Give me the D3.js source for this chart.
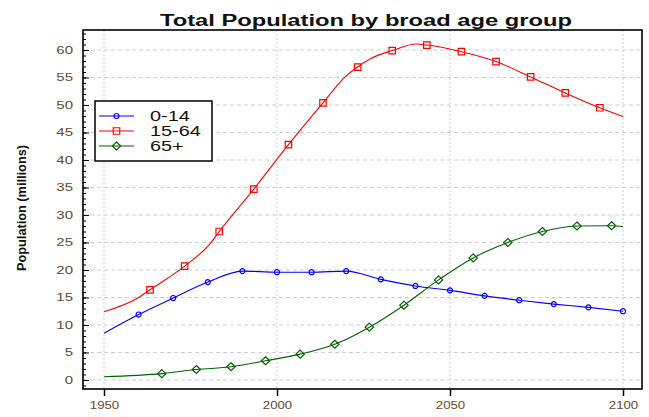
<!DOCTYPE html>
<html>
<head>
<meta charset="utf-8">
<script src="https://cdn.jsdelivr.net/npm/d3@7"></script>
<style>
body { margin: 0; background: #fff; }
text { font-family: "Liberation Sans", Arial, sans-serif; }
</style>
</head>
<body>
<svg id="chart" width="649" height="417"></svg>
<script>
// data (millions)
var yrs014 = [1950, 1960, 1970, 1980, 1990, 2000, 2010, 2020, 2030, 2040, 2050, 2060, 2070, 2080, 2090, 2100];
var pop014 = [8.5, 11.9, 14.9, 17.8, 19.8, 19.6, 19.6, 19.8, 18.3, 17.1, 16.3, 15.3, 14.5, 13.8, 13.2, 12.5];
var mk014  = [0, 1, 1, 1, 1, 1, 1, 1, 1, 1, 1, 1, 1, 1, 1, 1];

var yrs1564 = [1950, 1960, 1963.3, 1973.3, 1980.8, 1983.3, 1993.3, 2003.3, 2013.3, 2019.7, 2023.3, 2027, 2033.3, 2040.3, 2043.3, 2053.3, 2063.3, 2073.3, 2083.3, 2093.3, 2100];
var pop1564 = [12.4, 15.0, 16.4, 20.7, 24.9, 27.0, 34.7, 42.8, 50.4, 55.1, 56.9, 58.4, 59.9, 61.1, 60.9, 59.7, 57.9, 55.1, 52.2, 49.5, 47.9];
var mk1564  = [0, 0, 1, 1, 0, 1, 1, 1, 1, 0, 1, 0, 1, 0, 1, 1, 1, 1, 1, 1, 0];

var yrs65 = [1950, 1966.7, 1976.7, 1986.7, 1996.7, 2006.7, 2016.7, 2026.7, 2036.7, 2046.7, 2056.7, 2060.6, 2066.7, 2076.7, 2086.7, 2096.7, 2100];
var pop65 = [0.6, 1.15, 1.9, 2.4, 3.5, 4.7, 6.5, 9.6, 13.6, 18.2, 22.2, 23.4, 25.0, 27.0, 28.0, 28.05, 27.9];
var mk65  = [0, 1, 1, 1, 1, 1, 1, 1, 1, 1, 1, 0, 1, 1, 1, 1, 0];

var groups = ["0-14", "15-64", "65+"];
var xTicks = [1950, 2000, 2050, 2100];
var yTicks = [0, 5, 10, 15, 20, 25, 30, 35, 40, 45, 50, 55, 60];

var series = [
	{name: groups[0], years: yrs014, vals: pop014, mk: mk014, color: "#0000ff", shape: "circle"},
	{name: groups[1], years: yrs1564, vals: pop1564, mk: mk1564, color: "#ff0000", shape: "square"},
	{name: groups[2], years: yrs65, vals: pop65, mk: mk65, color: "#006400", shape: "diamond"}
];

var svg = d3.select("#chart");
var pL = 83, pR = 642, pT = 30, pB = 389;

var x = d3.scaleLinear().domain([1943.93, 2105.49]).range([pL, pR]);
var y = d3.scaleLinear().domain([-1.64, 63.64]).range([pB, pT]);

// stretch text sideways like the picture
function stretch(sel, k) {
	sel.each(function() {
		var len = this.getComputedTextLength();
		d3.select(this).attr("textLength", len * k).attr("lengthAdjust", "spacingAndGlyphs");
	});
}

// grid
svg.append("g").selectAll("line")
	.data(yTicks).enter().append("line")
	.attr("x1", pL).attr("x2", pR)
	.attr("y1", function(d){ return y(d); })
	.attr("y2", function(d){ return y(d); })
	.attr("stroke", "#cfcfcf").attr("stroke-dasharray", "4,3");
svg.append("g").selectAll("line")
	.data(xTicks).enter().append("line")
	.attr("x1", function(d){ return x(d); })
	.attr("x2", function(d){ return x(d); })
	.attr("y1", pT).attr("y2", pB)
	.attr("stroke", "#cfcfcf").attr("stroke-dasharray", "2,2");

// lines
var line = d3.line()
	.curve(d3.curveMonotoneX)
	.x(function(d){ return x(d[0]); })
	.y(function(d){ return y(d[1]); });

function symbolPath(shape) {
	if (shape == "circle") return d3.symbol().type(d3.symbolCircle).size(20)();
	if (shape == "square") return d3.symbol().type(d3.symbolSquare).size(42)();
	return "M0,-4L4.2,0L0,4L-4.2,0Z";
}

series.forEach(function(s) {
	var pts = s.years.map(function(yr, i){ return [yr, s.vals[i], s.mk[i]]; });
	svg.append("path")
		.attr("d", line(pts))
		.attr("fill", "none")
		.attr("stroke", s.color)
		.attr("stroke-width", 1.1);
	svg.append("g").selectAll("path")
		.data(pts.filter(function(p){ return p[2] == 1; }))
		.enter().append("path")
		.attr("transform", function(p){ return "translate(" + x(p[0]) + "," + y(p[1]) + ")"; })
		.attr("d", symbolPath(s.shape))
		.attr("fill", "none")
		.attr("stroke", s.color)
		.attr("stroke-width", 1.2);
});

// axes
var minor = d3.range(-1, 64);
svg.append("g")
	.attr("transform", "translate(" + pL + ",0)")
	.call(d3.axisLeft(y).tickValues(minor).tickSize(-3).tickFormat(""))
	.call(function(g){ g.select(".domain").remove(); });
var ya = svg.append("g")
	.attr("transform", "translate(" + pL + ",0)")
	.call(d3.axisLeft(y).tickValues(yTicks).tickSize(-6).tickPadding(10))
	.call(function(g){ g.select(".domain").remove(); });
ya.selectAll("text").attr("font-size", 10).attr("fill", "#6a4a28")
	.attr("font-family", "'Liberation Sans', Arial, sans-serif");
stretch(ya.selectAll("text"), 1.5);

var xa = svg.append("g")
	.attr("transform", "translate(0," + pB + ")")
	.call(d3.axisBottom(x).tickValues(xTicks).tickSize(7).tickPadding(5).tickFormat(d3.format("d")))
	.call(function(g){ g.select(".domain").remove(); });
xa.selectAll("line").attr("stroke-width", 1.5);
xa.selectAll("text").attr("font-size", 11.5).attr("fill", "#6a4a28")
	.attr("font-family", "'Liberation Sans', Arial, sans-serif");
stretch(xa.selectAll("text"), 1.15);

// box
svg.append("rect")
	.attr("x", pL).attr("y", pT)
	.attr("width", pR - pL).attr("height", pB - pT)
	.attr("fill", "none").attr("stroke", "#000").attr("stroke-width", 1.6);

// legend
var lg = svg.append("g");
lg.append("rect")
	.attr("x", 95).attr("y", 101).attr("width", 117).attr("height", 60)
	.attr("fill", "#fff").attr("stroke", "#000").attr("stroke-width", 1.5);
series.forEach(function(s, i) {
	var yy = 116 + i * 15;
	lg.append("line").attr("x1", 99).attr("x2", 134).attr("y1", yy).attr("y2", yy)
		.attr("stroke", s.color).attr("stroke-width", 1.1);
	lg.append("path").attr("transform", "translate(116.5," + yy + ")")
		.attr("d", symbolPath(s.shape))
		.attr("fill", "none").attr("stroke", s.color).attr("stroke-width", 1.2);
	var t = lg.append("text").attr("x", 150).attr("y", yy + 5)
		.attr("font-size", 14).attr("fill", "#1a1208").text(s.name);
	stretch(t, 1.42);
});

// title and y label
var title = svg.append("text")
	.attr("x", 366).attr("y", 26)
	.attr("text-anchor", "middle")
	.attr("font-size", 16).attr("font-weight", "bold").attr("fill", "#111")
	.text("Total Population by broad age group");
title.attr("textLength", 412).attr("lengthAdjust", "spacingAndGlyphs");

svg.append("text")
	.attr("transform", "translate(26,208) rotate(-90)")
	.attr("text-anchor", "middle")
	.attr("font-size", 13).attr("font-weight", "bold").attr("fill", "#111")
	.attr("textLength", 126).attr("lengthAdjust", "spacingAndGlyphs")
	.text("Population (millions)");
</script>
</body>
</html>
